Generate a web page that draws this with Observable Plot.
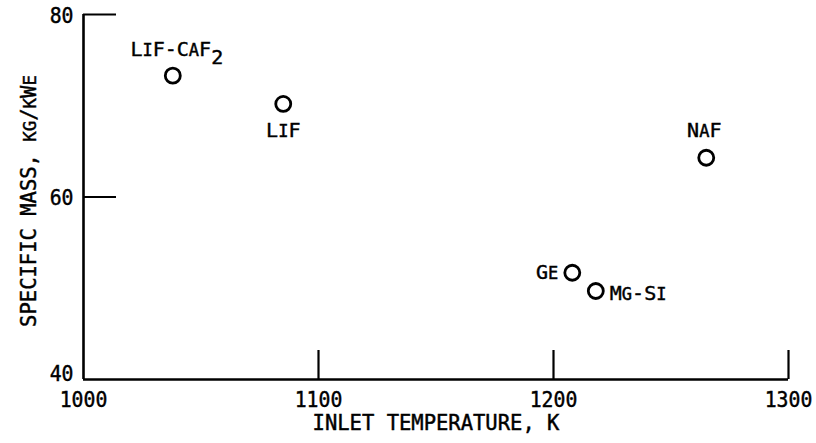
<!DOCTYPE html>
<html><head><meta charset="utf-8">
<script src="https://cdn.jsdelivr.net/npm/d3@7"></script>
<script src="https://cdn.jsdelivr.net/npm/@observablehq/plot@0.6"></script>
<style>
body{margin:0;background:#fff}
svg text{stroke:#000;stroke-width:0.45px}
</style>
</head><body><div id="chart"></div>
<script>
const names = ["LiF-CaF₂", "LiF", "NaF", "Ge", "Mg-Si"];
const inletTemp = [1038, 1085, 1265, 1208, 1218];
const specificMass = [73.3, 70.2, 64.3, 51.7, 49.7];
const xTicks = [1000, 1100, 1200, 1300];
const yTicks = [40, 60, 80];
const xLabel = "INLET TEMPERATURE, K";
const yLabel = "SPECIFIC MASS, kg/kWe";

const points = names.map((name, i) => ({name, t: inletTemp[i], m: specificMass[i]}));
const font = "'DejaVu Sans Mono', monospace";
const lab = (name, opts) => Plot.text(points, {filter: d => d.name === name, x: "t", y: "m", text: "name",
  fontSize: 20, ...opts});
const fmt = d => String(d);

const chart = Plot.plot({
  width: 816, height: 443,
  marginLeft: 83, marginRight: 28, marginTop: 14, marginBottom: 64,
  style: {fontFamily: font, fontSize: "20px", color: "#000", background: "#fff"},
  x: {domain: [xTicks[0], xTicks[xTicks.length - 1]]},
  y: {domain: [yTicks[0], yTicks[yTicks.length - 1]]},
  marks: [
    Plot.ruleX([xTicks[0]], {y1: yTicks[0], y2: yTicks[yTicks.length - 1], strokeWidth: 2.6}),
    Plot.ruleY([yTicks[0]], {x1: xTicks[0], x2: xTicks[xTicks.length - 1], strokeWidth: 2.6}),
    Plot.axisX(xTicks.slice(1), {tickSize: -29, strokeWidth: 2.2, fill: "none", label: null}),
    Plot.axisY(yTicks.slice(1), {tickSize: -33, strokeWidth: 2.2, fill: "none", label: null}),
    Plot.axisX(xTicks, {tickSize: 0, tickPadding: 12, label: null, tickFormat: fmt, fontSize: 22}),
    Plot.axisY(yTicks.slice(1), {tickSize: 0, tickPadding: 10, dy: 1, label: null, tickFormat: fmt, fontSize: 22}),
    Plot.axisY(yTicks.slice(0, 1), {tickSize: 0, tickPadding: 10, dy: -6, label: null, tickFormat: fmt, fontSize: 22}),
    Plot.text([xLabel], {frameAnchor: "bottom", dy: 50, fontSize: 20.5}),
    Plot.text([yLabel], {frameAnchor: "left", textAnchor: "middle", dx: -54, dy: 4, rotate: -90, fontSize: 20.5}),
    Plot.dot(points, {x: "t", y: "m", r: 7.5, stroke: "#000", strokeWidth: 2.8, fill: "#fff"}),
    lab("LiF-CaF₂", {dy: -26, dx: 4}),
    lab("LiF", {dy: 27}),
    lab("NaF", {dy: -27, dx: -2}),
    lab("Ge", {textAnchor: "end", dx: -14, dy: 0}),
    lab("Mg-Si", {textAnchor: "start", dx: 14, dy: 3})
  ]
});
document.getElementById("chart").appendChild(chart);

// tick numerals: narrower lettering (horizontal squeeze about their anchor)
chart.querySelectorAll("text").forEach(t => {
  if (/^\d+$/.test(t.textContent)) {
    const tr = t.getAttribute("transform");
    if (tr) t.setAttribute("transform", tr + " scale(0.9,1)");
  }
});

// typeset lowercase letters as small capitals and "₂" as a lowered 2
const NS = "http://www.w3.org/2000/svg";
chart.querySelectorAll("text").forEach(t => {
  const s = t.textContent;
  if (!/[a-z₂]/.test(s)) return;
  t.textContent = "";
  const re = /([a-z]+)|(₂)|([^a-z₂]+)/g;
  let m;
  while ((m = re.exec(s))) {
    const ts = document.createElementNS(NS, "tspan");
    if (m[1]) { ts.setAttribute("style", "font-size:85%"); ts.textContent = m[1].toUpperCase(); }
    else if (m[2]) { ts.setAttribute("dy", "0.38em"); ts.textContent = "2"; }
    else ts.textContent = m[3];
    t.appendChild(ts);
  }
});
</script></body></html>
